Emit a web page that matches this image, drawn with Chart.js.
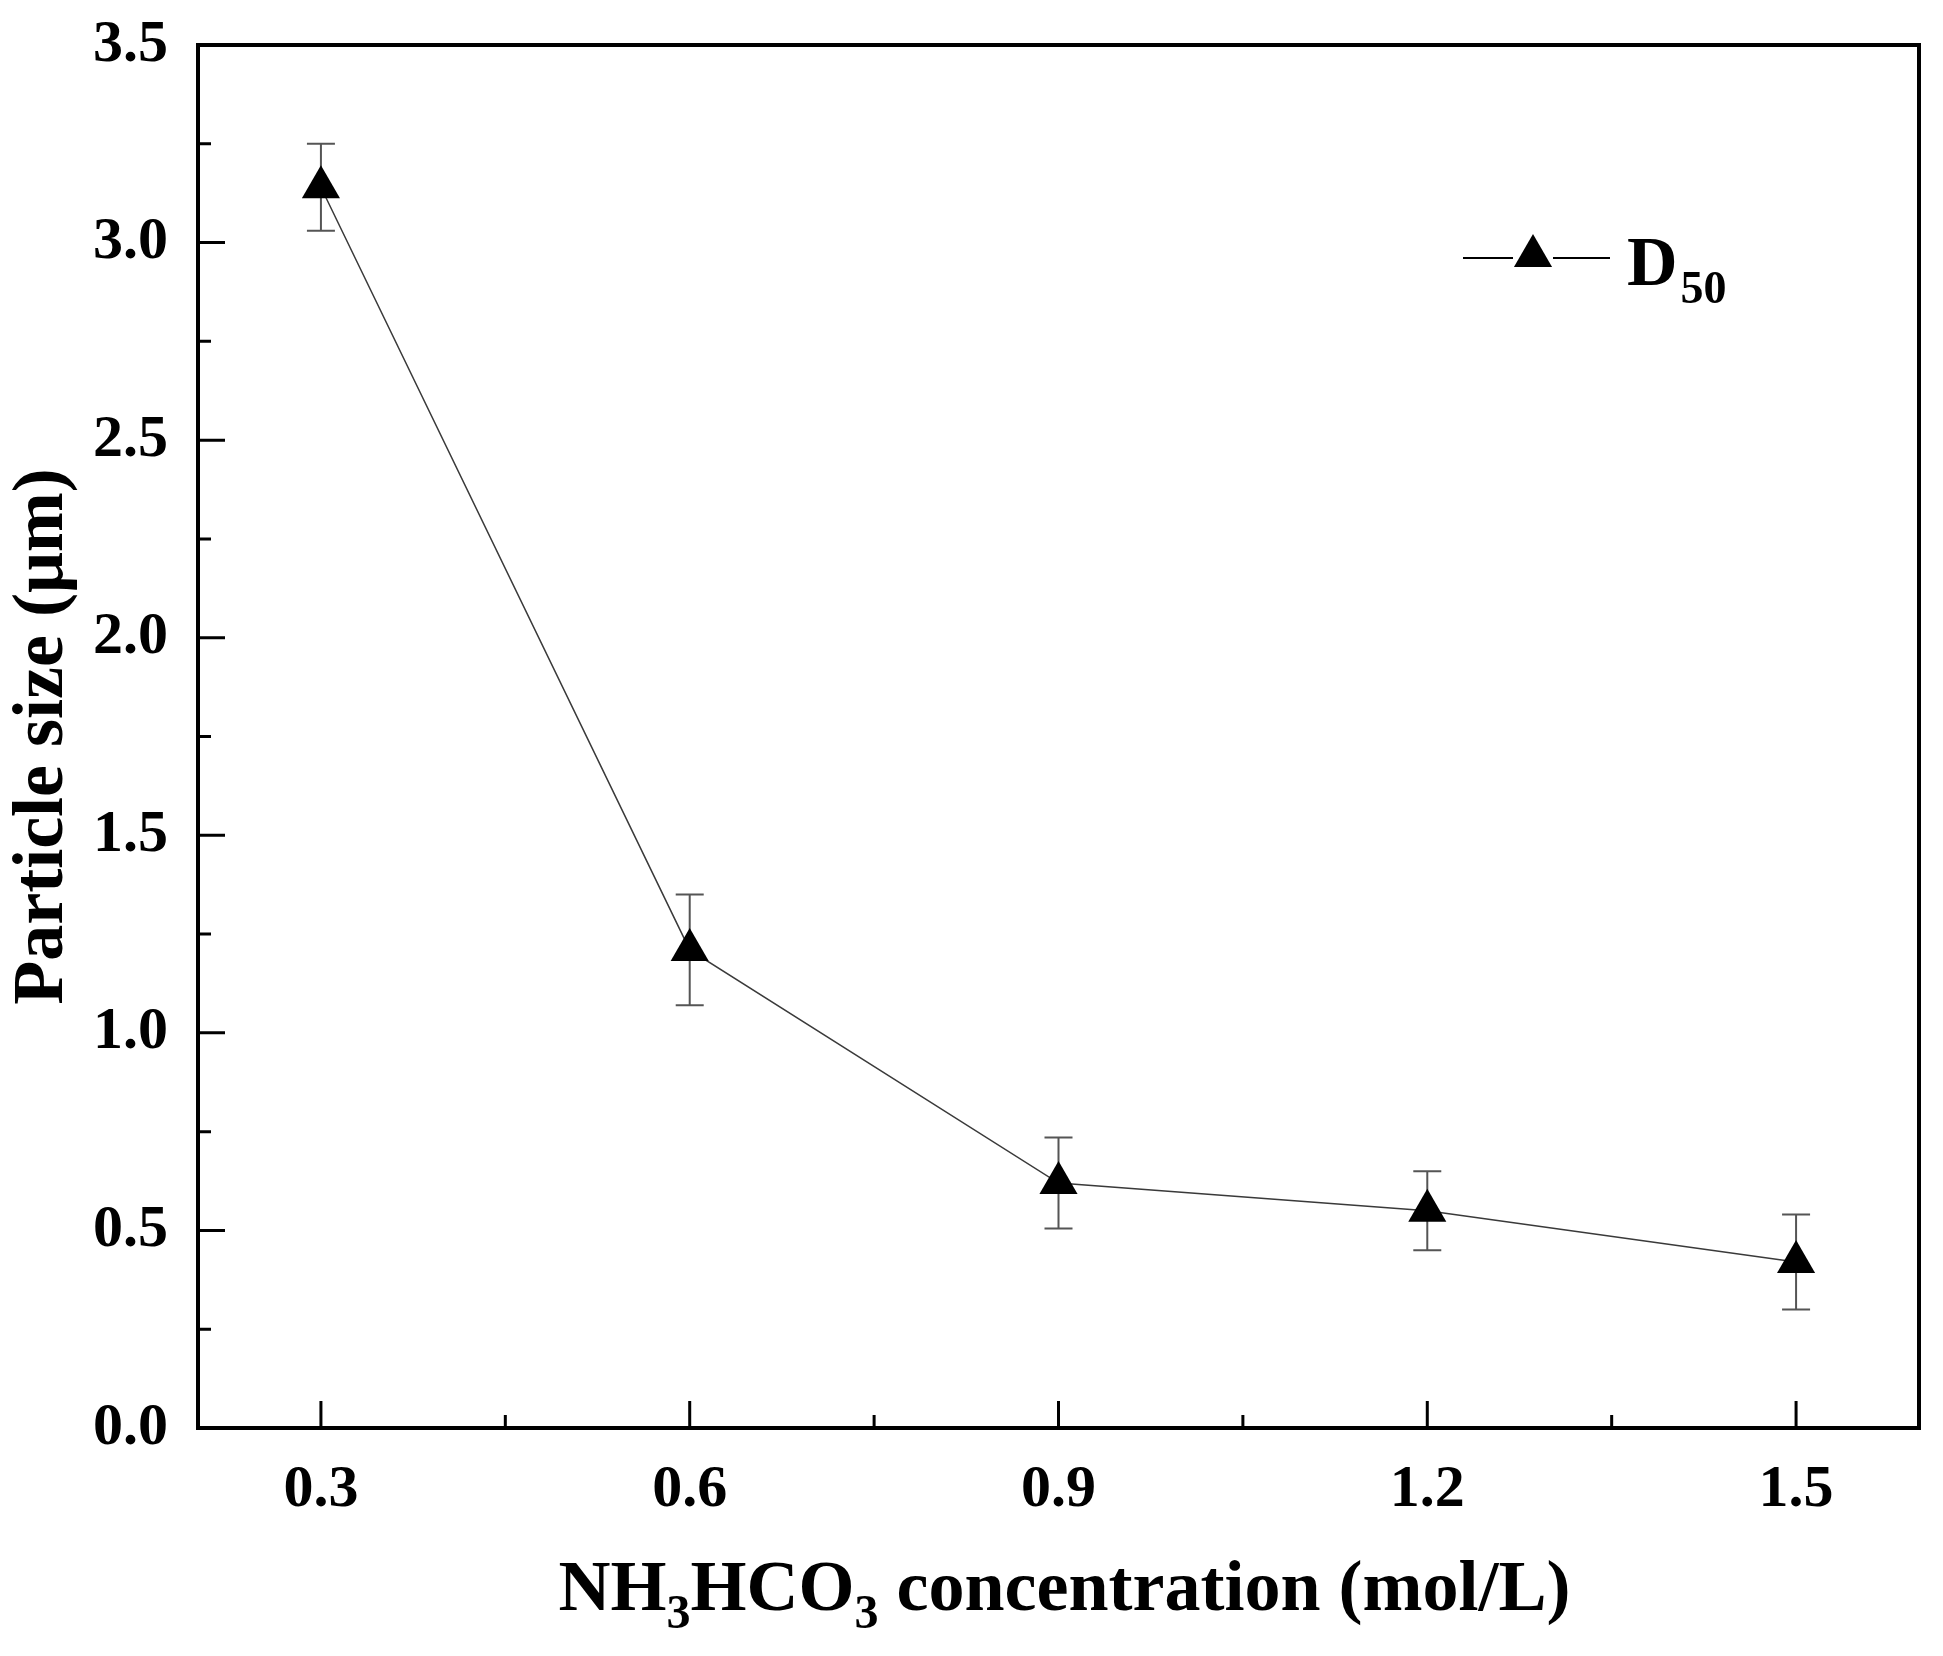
<!DOCTYPE html>
<html>
<head>
<meta charset="utf-8">
<script src="https://cdn.jsdelivr.net/npm/chart.js@4.4.1/dist/chart.umd.min.js"></script>
<style>
  html, body { margin: 0; padding: 0; background: #ffffff; }
  #wrap { width: 1943px; height: 1656px; position: relative; }
</style>
</head>
<body>
<div id="wrap"><canvas id="c" width="1943" height="1656"></canvas></div>
<script>
// ---- data ----
const concentrations = [0.3, 0.6, 0.9, 1.2, 1.5];
const d50Values = [3.14, 1.21, 0.62, 0.55, 0.42];
const d50Errors = [0.11, 0.14, 0.115, 0.10, 0.12];
const xTickValues = [0.3, 0.6, 0.9, 1.2, 1.5];
const xMinorTicks = [0.45, 0.75, 1.05, 1.35];
const yTickValues = [0, 0.5, 1.0, 1.5, 2.0, 2.5, 3.0, 3.5];
const yMinorTicks = [0.25, 0.75, 1.25, 1.75, 2.25, 2.75, 3.25];
const seriesName = 'D';
const seriesSub = '50';
const xTitleParts = [['NH', false], ['3', true], ['HCO', false], ['3', true], [' concentration (mol/L)', false]];
const yTitle = 'Particle size (\u03bcm)';

const FONT = '"Liberation Serif", "Times New Roman", serif';

const points = concentrations.map((x, i) => ({ x: x, y: d50Values[i] }));

const decorPlugin = {
  id: 'decor',
  beforeDatasetsDraw(chart) {
    const ctx = chart.ctx;
    const xs = chart.scales.x, ys = chart.scales.y;
    ctx.save();
    ctx.strokeStyle = '#555555';
    ctx.lineWidth = 2;
    const cap = 14;
    concentrations.forEach((x, i) => {
      const px = xs.getPixelForValue(x);
      const top = ys.getPixelForValue(d50Values[i] + d50Errors[i]);
      const bot = ys.getPixelForValue(d50Values[i] - d50Errors[i]);
      ctx.beginPath();
      ctx.moveTo(px, top); ctx.lineTo(px, bot);
      ctx.moveTo(px - cap, top); ctx.lineTo(px + cap, top);
      ctx.moveTo(px - cap, bot); ctx.lineTo(px + cap, bot);
      ctx.stroke();
    });
    ctx.restore();
  },
  afterDraw(chart) {
    const ctx = chart.ctx;
    const a = chart.chartArea;
    const xs = chart.scales.x, ys = chart.scales.y;
    ctx.save();
    // ticks (inward)
    ctx.strokeStyle = '#000000';
    ctx.lineWidth = 3;
    ctx.beginPath();
    xTickValues.forEach(v => { const p = xs.getPixelForValue(v); ctx.moveTo(p, a.bottom); ctx.lineTo(p, a.bottom - 27); });
    xMinorTicks.forEach(v => { const p = xs.getPixelForValue(v); ctx.moveTo(p, a.bottom); ctx.lineTo(p, a.bottom - 13); });
    yTickValues.forEach(v => { const p = ys.getPixelForValue(v); ctx.moveTo(a.left, p); ctx.lineTo(a.left + 27, p); });
    yMinorTicks.forEach(v => { const p = ys.getPixelForValue(v); ctx.moveTo(a.left, p); ctx.lineTo(a.left + 13, p); });
    ctx.stroke();
    // frame
    ctx.lineWidth = 4;
    ctx.strokeRect(a.left, a.top, a.right - a.left, a.bottom - a.top);

    // x axis title with subscripts
    const mainFont = 'bold 72px ' + FONT;
    const subFont = 'bold 48px ' + FONT;
    let total = 0;
    xTitleParts.forEach(([t, sub]) => { ctx.font = sub ? subFont : mainFont; total += ctx.measureText(t).width; });
    let x = (a.left + a.right) / 2 + 6 - total / 2;
    const baseY = 1610;
    ctx.fillStyle = '#000000';
    ctx.textBaseline = 'alphabetic';
    ctx.textAlign = 'left';
    xTitleParts.forEach(([t, sub]) => {
      ctx.font = sub ? subFont : mainFont;
      ctx.fillText(t, x, sub ? baseY + 18 : baseY);
      x += ctx.measureText(t).width;
    });

    // legend
    const ly = 258;
    ctx.strokeStyle = '#000000';
    ctx.lineWidth = 2;
    ctx.beginPath();
    ctx.moveTo(1463, ly); ctx.lineTo(1513, ly);
    ctx.moveTo(1553, ly); ctx.lineTo(1610, ly);
    ctx.stroke();
    ctx.fillStyle = '#000000';
    const r = 22, cx = 1533, cy = ly - 2;
    ctx.beginPath();
    ctx.moveTo(cx, cy - r);
    ctx.lineTo(cx + r * Math.sin(2 * Math.PI / 3), cy - r * Math.cos(2 * Math.PI / 3));
    ctx.lineTo(cx + r * Math.sin(4 * Math.PI / 3), cy - r * Math.cos(4 * Math.PI / 3));
    ctx.closePath();
    ctx.fill();
    ctx.font = 'bold 70px ' + FONT;
    ctx.fillText(seriesName, 1627, 285);
    const dw = ctx.measureText(seriesName).width;
    ctx.font = 'bold 46px ' + FONT;
    ctx.fillText(seriesSub, 1627 + dw + 3, 303);
    ctx.restore();
  }
};

new Chart(document.getElementById('c'), {
  type: 'scatter',
  data: {
    datasets: [{
      label: 'D50',
      data: points,
      showLine: true,
      borderColor: '#3a3a3a',
      borderWidth: 1.5,
      backgroundColor: '#000000',
      pointStyle: 'triangle',
      pointRadius: 22,
      pointHoverRadius: 22,
      pointBorderWidth: 0,
      pointBackgroundColor: '#000000',
      pointBorderColor: '#000000'
    }]
  },
  options: {
    responsive: false,
    animation: false,
    devicePixelRatio: 1,
    layout: { padding: { top: 45, right: 24, left: 0, bottom: 0 } },
    plugins: { legend: { display: false }, tooltip: { enabled: false } },
    scales: {
      x: {
        type: 'linear',
        min: 0.2, max: 1.6,
        afterBuildTicks: s => { s.ticks = xTickValues.map(v => ({ value: v })); },
        afterFit: s => { s.height = 228; },
        grid: { display: false, drawTicks: false },
        border: { display: false },
        ticks: {
          padding: 26,
          color: '#000000',
          font: { family: FONT, size: 60, weight: 'bold' },
          callback: v => v.toFixed(1)
        },
        title: { display: false }
      },
      y: {
        type: 'linear',
        min: 0, max: 3.5,
        afterBuildTicks: s => { s.ticks = yTickValues.map(v => ({ value: v })); },
        afterFit: s => { s.width = 198; s.paddingTop = 0; s.paddingBottom = 0; },
        grid: { display: false, drawTicks: false },
        border: { display: false },
        ticks: {
          padding: 30,
          color: '#000000',
          font: { family: FONT, size: 60, weight: 'bold' },
          callback: v => v.toFixed(1)
        },
        title: {
          display: true,
          text: yTitle,
          color: '#000000',
          font: { family: FONT, size: 72, weight: 'bold' },
          padding: { top: 0, bottom: 0 }
        }
      }
    }
  },
  plugins: [decorPlugin]
});
</script>
</body>
</html>
